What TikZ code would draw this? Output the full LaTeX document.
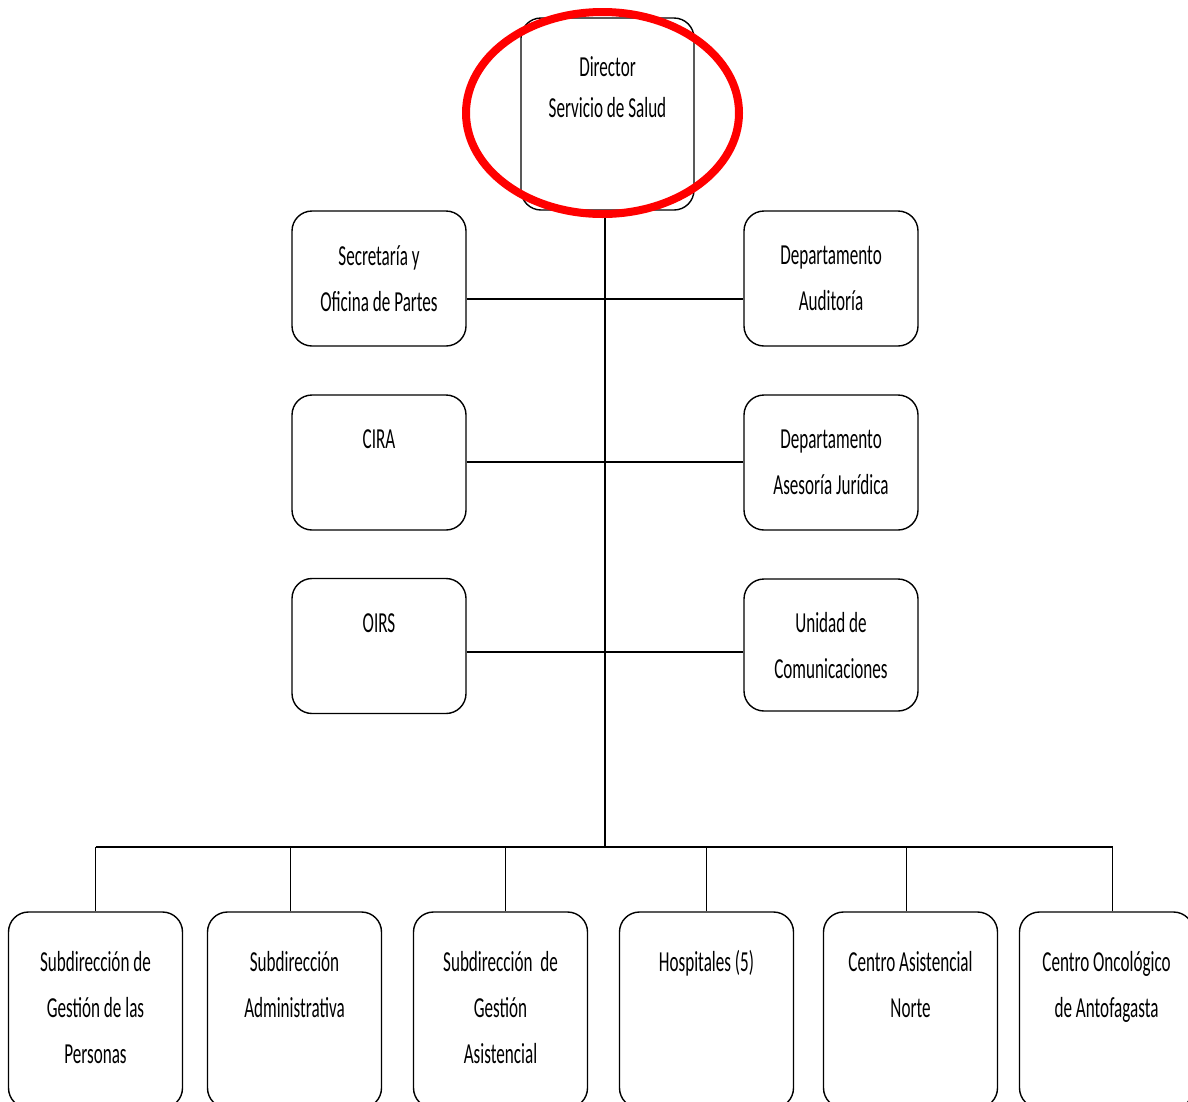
\documentclass[tikz,border=0pt]{standalone}
\usepackage{fontspec}
\setmainfont{Carlito}[FakeStretch=0.59]
\usepackage{tikz}

\begin{document}
\begin{tikzpicture}[x=1pt,y=-1pt,
    unit/.style={draw,rounded corners=20pt,line width=1.4pt,minimum width=174pt,
      minimum height=135pt,inner sep=0pt,align=center,text depth=-5pt,
      font=\fontsize{29}{46}\selectfont},
    subunit/.style={unit,minimum height=196pt,text depth=6pt},
    link/.style={line width=1.4pt}]

\clip (0,0) rectangle (1188,1101);

% Director on top
\node[unit,minimum width=173pt,minimum height=192pt,text depth=0pt] (dir) at (607.5,114)
  {Director\\[-5pt]Servicio de Salud\\[8pt]~};

% Staff units, two columns
\node[unit] (sec) at (379,278.5) {Secretaría y\\Oficina de Partes};
\node[unit] (aud) at (831,278.5) {Departamento\\Auditoría};
\node[unit] (cira) at (379,462.5) {CIRA\\~};
\node[unit] (jur) at (831,462.5) {Departamento\\Asesoría Jurídica};
\node[unit] (oirs) at (379,646) {OIRS\\~};
\node[unit,minimum height=132pt] (com) at (831,645) {Unidad de\\Comunicaciones};

% Subdirections and centres in a row
\node[subunit] (sgp) at (95.5,1010) {Subdirección de\\Gestión de las\\Personas};
\node[subunit] (sa) at (294.5,1010) {Subdirección\\Administrativa\\~};
\node[subunit] (sga) at (500.5,1010) {Subdirección~ de\\Gestión\\Asistencial};
\node[subunit] (hos) at (706.5,1010) {Hospitales (5)\\~\\~};
\node[subunit] (can) at (910.5,1010) {Centro Asistencial\\Norte\\~};
\node[subunit] (con) at (1106.5,1010) {Centro Oncológico\\de Antofagasta\\~};

% Trunk
\coordinate (bus) at (605,847);
\draw[link] (dir.south -| bus) -- (bus);

% Staff rows
\foreach \lft/\rgt/\y in {sec/aud/299,cira/jur/462,oirs/com/652}{
  \coordinate (row) at (605,\y);
  \draw[link] (\lft.east |- row) -- (\rgt.west |- row);
}

% Bus and drops
\draw[link] (sgp.north |- bus) -- ([xshift=6pt]con.north |- bus);
\foreach \n/\dx in {sgp/0,sa/-4,sga/5,hos/0,can/-4,con/6}
  \draw[link] ([xshift=\dx pt]\n.north) -- ([xshift=\dx pt]\n.north |- bus);

% Highlight
\draw[red,line width=8pt] (602.5,113) ellipse [x radius=136.5,y radius=101];

\end{tikzpicture}
\end{document}
